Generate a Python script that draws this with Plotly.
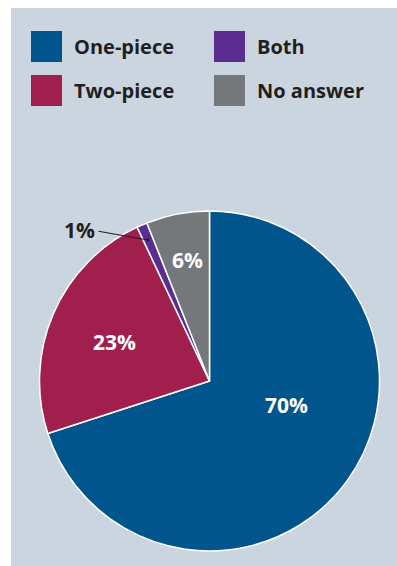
import math
import plotly.graph_objects as go

labels = ["One-piece", "Two-piece", "Both", "No answer"]
values = [70, 23, 1, 6]
colors = ["#00558c", "#a11f4c", "#5c2d91", "#75787a"]
legend_order = ["One-piece", "Two-piece", "Both", "No answer"]

W, H = 397, 566
BG = "#cbd5df"
TXT = "#231f20"
FONT = "Open Sans"

fig = go.Figure()

# pie geometry (pixels)
cx, cy, r = 209.5, 381.0, 170.0
fig.add_trace(go.Pie(
    labels=labels, values=values, sort=False, direction="clockwise", rotation=0,
    marker=dict(colors=colors, line=dict(color="white", width=1.5)),
    textinfo="none", hoverinfo="label+percent", showlegend=False,
    domain=dict(x=[(cx - r) / W, (cx + r) / W], y=[(H - cy - r) / H, (H - cy + r) / H]),
))

shapes = [dict(type="rect", xref="paper", yref="paper", x0=11 / W, x1=1.0, y0=0, y1=(H - 8) / H,
               fillcolor=BG, line=dict(width=0), layer="below")]
annotations = []

# legend built from the label/color arrays
for i, name in enumerate(legend_order):
    col, row = divmod(i, 2)
    x0 = 31 + col * 183
    y0 = 31 + row * 44
    c = colors[labels.index(name)]
    shapes.append(dict(type="rect", xref="paper", yref="paper",
                       x0=x0 / W, x1=(x0 + 31) / W, y0=(H - y0 - 31) / H, y1=(H - y0) / H,
                       fillcolor=c, line=dict(width=0)))
    annotations.append(dict(xref="paper", yref="paper", x=(x0 + 41) / W, y=(H - y0 - 15.5) / H,
                            xanchor="left", yanchor="middle", showarrow=False, text=name,
                            font=dict(family=FONT, size=20, color=TXT, weight="bold")))

# slice labels (positions tuned to match the reference layout)
label_pos = {"One-piece": (286, 405), "Two-piece": (114.5, 342), "No answer": (187, 260)}
total = sum(values)
for name, v in zip(labels, values):
    pct = f"{round(100 * v / total)}%"
    if name in label_pos:
        px, py = label_pos[name]
        annotations.append(dict(xref="paper", yref="paper", x=px / W, y=(H - py) / H,
                                xanchor="center", yanchor="middle", showarrow=False, text=pct,
                                font=dict(family=FONT, size=21, color="white", weight="bold")))
    else:
        # small slice: outside label with leader line
        annotations.append(dict(xref="paper", yref="paper", x=148 / W, y=(H - 240) / H,
                                ax=97 - 148, ay=231 - 240,
                                showarrow=True, arrowhead=6, arrowsize=0.6, arrowwidth=1.2,
                                arrowcolor=TXT, standoff=0, startstandoff=0, text=""))
        annotations.append(dict(xref="paper", yref="paper", x=79 / W, y=(H - 230) / H,
                                xanchor="center", yanchor="middle", showarrow=False, text=pct,
                                font=dict(family=FONT, size=21, color=TXT, weight="bold")))

fig.update_layout(width=W, height=H, margin=dict(l=0, r=0, t=0, b=0),
                  paper_bgcolor="white", plot_bgcolor="white",
                  shapes=shapes, annotations=annotations)
fig.write_html("out.html")
